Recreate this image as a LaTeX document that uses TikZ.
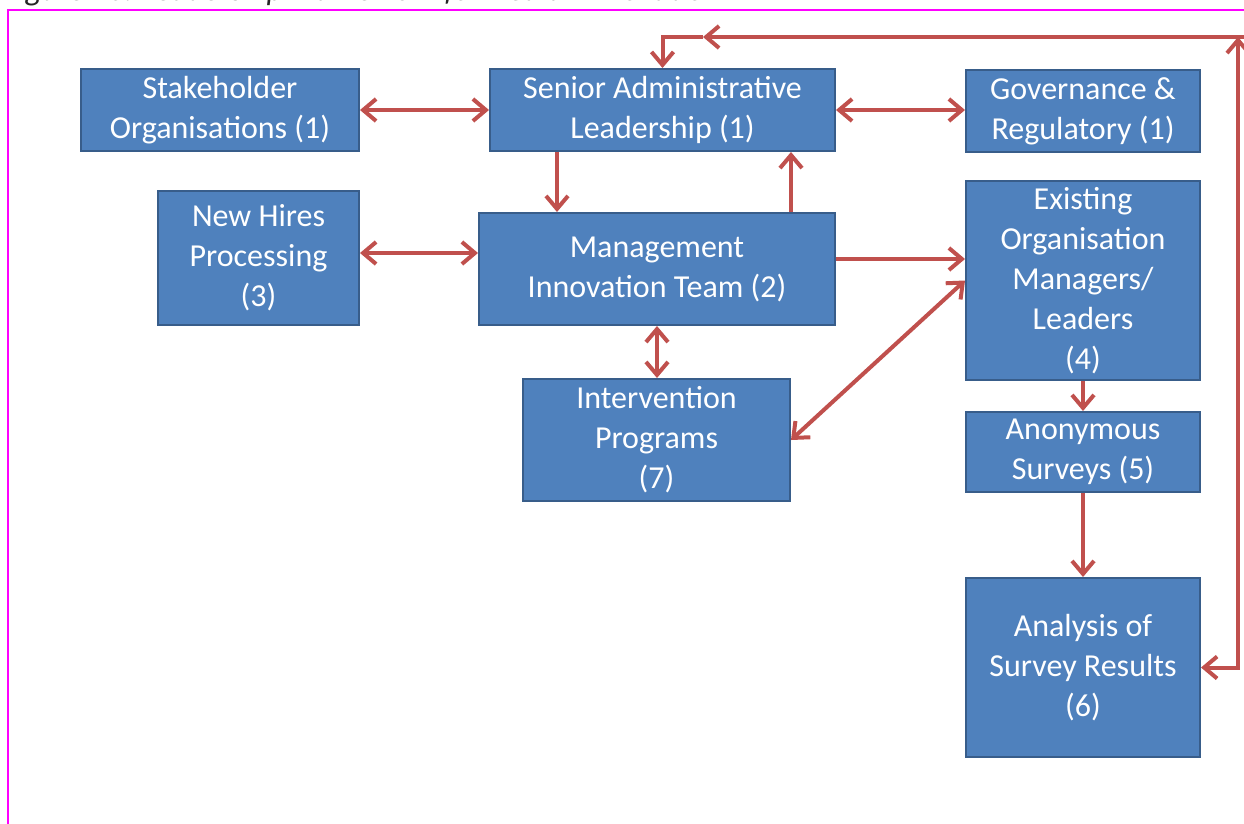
\documentclass[tikz,border=0pt]{standalone}
\usepackage{fontspec}
\setmainfont{Carlito}
\usetikzlibrary{arrows.meta,calc}
\definecolor{boxfill}{HTML}{4F81BD}
\definecolor{boxline}{HTML}{385D8A}
\definecolor{linkred}{HTML}{C0504D}
\definecolor{framepink}{HTML}{FF00FF}
\tikzset{
  box/.style={draw=boxline, fill=boxfill, line width=2pt, text=white,
    align=center, inner sep=0pt, font=\fontsize{32}{40}\selectfont},
  link/.style={draw=linkred, line width=4pt,
    >={Straight Barb[length=13pt,width=22pt]}},
}
\begin{document}
\begin{tikzpicture}[x=1pt,y=-1pt]
\useasboundingbox (0,0) rectangle (1244,823);
\draw[framepink, line width=1.5pt] (8,840) -- (8,10) -- (1260,10);
\node[anchor=base west, font=\fontsize{32}{40}\selectfont\itshape, text=black!85] (caption) at (0,0.5)
  {Figure 10: Leadership Framework for Health Innovation};
% boxes
\node[box, minimum width=278pt, minimum height=82pt] (stake) at (220,110) {Stakeholder\\Organisations (1)};
\node[box, minimum width=345pt, minimum height=82pt] (senior) at (662.5,110) {Senior Administrative\\Leadership (1)};
\node[box, minimum width=234pt, minimum height=82pt] (gov) at (1083,111) {Governance \&\\Regulatory (1)};
\node[box, minimum width=201pt, minimum height=134pt] (hires) at (258.5,258) {New Hires\\Processing\\(3)};
\node[box, minimum width=356pt, minimum height=112pt] (mgmt) at (657,269) {Management\\Innovation Team (2)};
\node[box, minimum width=234pt, minimum height=199pt] (exist) at (1083,280.5) {Existing\\Organisation\\Managers/\\Leaders\\(4)};
\node[box, minimum width=267pt, minimum height=122pt] (interv) at (656.5,440) {Intervention\\Programs\\(7)};
\node[box, minimum width=234pt, minimum height=80pt] (anon) at (1083,452) {Anonymous\\Surveys (5)};
\node[box, minimum width=234pt, minimum height=179pt] (results) at (1083,667.5) {Analysis of\\Survey Results\\(6)};
% links
\draw[link,<->] (stake) -- (senior);
\draw[link,<->] (senior.east) -- (senior.east -| gov.west);
\draw[link,->] ($(senior.south west)+(68,0)$) coordinate (s1) -- (s1 |- mgmt.north);
\draw[link,->] ($(mgmt.north east)+(-45,0)$) coordinate (m1) -- (m1 |- senior.south);
\draw[link,<->] ($(hires.east)+(0,-5)$) coordinate (h1) -- (h1 -| mgmt.west);
\draw[link,->] ($(mgmt.east)+(0,-10)$) coordinate (m2) -- (m2 -| exist.west);
\draw[link,<->] (mgmt.south) -- (mgmt.south |- interv.north);
\draw[link,<->] (interv.east) -- (exist.west);
\draw[link,->] (exist.south) -- (anon.north);
\draw[link,->] (anon.south) -- (results.north);
% feedback loop
\coordinate (corner) at (1238,37);
\coordinate (back) at (703,37);
\draw[link,<->] (results.east) -- (results.east -| corner) -- (corner);
\draw[link] (corner) -- +(6,0);
\draw[link,->] (corner) -- (back);
\draw[link,->] (back) -| (senior.north);
\end{tikzpicture}
\end{document}
